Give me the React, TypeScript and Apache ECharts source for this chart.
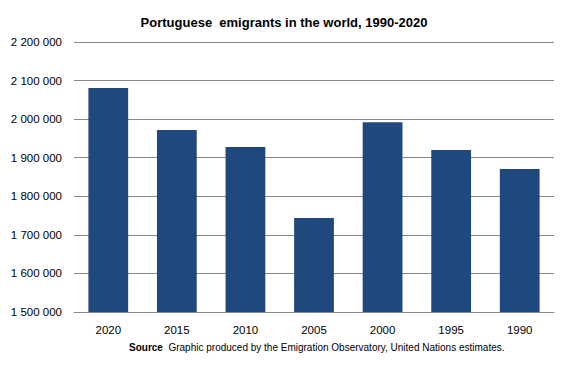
import React, { useEffect, useRef } from "react";
import * as echarts from "echarts";

const categories = ["2020", "2015", "2010", "2005", "2000", "1995", "1990"];
const emigrants = [2081000, 1972000, 1928000, 1744000, 1992000, 1920000, 1871000];
const yMin = 1500000;
const yMax = 2200000;
const yStep = 100000;
const titleText = "Portuguese  emigrants in the world, 1990-2020";
const sourceLabel = "Source";
const sourceText = "  Graphic produced by the Emigration Observatory, United Nations estimates.";

function fmt(v: number): string {
  return String(Math.round(v)).replace(/\B(?=(\d{3})+(?!\d))/g, " ");
}

export default function App() {
  const ref = useRef<HTMLDivElement>(null);
  useEffect(() => {
    if (!ref.current) return;
    const chart = echarts.init(ref.current, undefined, { renderer: "svg" });
    chart.setOption({
      animation: false,
      backgroundColor: "#ffffff",
      title: {
        text: titleText,
        left: "center",
        top: 11,
        textStyle: {
          fontFamily: "Liberation Sans, Arial, sans-serif",
          fontSize: 13,
          fontWeight: "bold",
          color: "#000000",
        },
      },
      grid: { left: 74, right: 14, top: 42, bottom: 59, containLabel: false },
      xAxis: {
        type: "category",
        data: categories,
        axisLine: { show: true, lineStyle: { color: "#888888", width: 1 } },
        axisTick: { show: false },
        axisLabel: {
          margin: 12,
          fontFamily: "Liberation Sans, Arial, sans-serif",
          fontSize: 11.5,
          color: "#000000",
        },
      },
      yAxis: {
        type: "value",
        min: yMin,
        max: yMax,
        interval: yStep,
        axisLine: { show: false },
        axisTick: { show: false },
        splitLine: { show: true, lineStyle: { color: "#888888", width: 1 } },
        axisLabel: {
          margin: 12,
          formatter: (v: number) => fmt(v),
          fontFamily: "Liberation Sans, Arial, sans-serif",
          fontSize: 11.5,
          color: "#000000",
        },
      },
      series: [
        {
          type: "bar",
          data: emigrants,
          barCategoryGap: "42%",
          itemStyle: { color: "#1F497D" },
        },
      ],
      graphic: [
        {
          type: "text",
          left: 129,
          top: 342,
          style: {
            text: "{b|" + sourceLabel + "}{n|" + sourceText + "}",
            rich: {
              b: {
                fontFamily: "Liberation Sans Narrow, Liberation Sans, Arial, sans-serif",
                fontWeight: "bold",
                fontSize: 10,
                fill: "#000000",
              },
              n: {
                fontFamily: "Liberation Sans Narrow, Liberation Sans, Arial, sans-serif",
                fontSize: 10,
                fill: "#000000",
              },
            },
          },
        },
      ],
    });
    return () => chart.dispose();
  }, []);
  return (
    <div
      ref={ref}
      style={{ position: "fixed", left: 0, top: 0, width: 568, height: 371 }}
    />
  );
}
